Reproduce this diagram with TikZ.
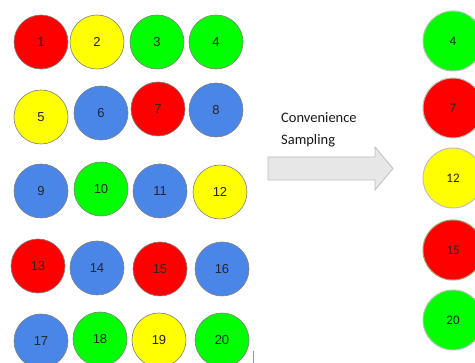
\documentclass[tikz,border=0pt]{standalone}
\usepackage{fontspec}
\setmainfont{Liberation Sans}
\newfontfamily\calib{Carlito}
\definecolor{cred}{HTML}{FF0000}
\definecolor{cyel}{HTML}{FFFF00}
\definecolor{cgrn}{HTML}{00FF00}
\definecolor{cblu}{HTML}{4A86E8}
\definecolor{arrfill}{HTML}{E7E7E7}
\definecolor{arrline}{HTML}{BFBFBF}
\tikzset{
  ball/.style={circle, draw=black!50, line width=0.6pt, minimum size=54pt, inner sep=0pt,
    font=\fontsize{13}{13}\selectfont, text=black!85},
  sball/.style={circle, draw=black!25, line width=1pt, minimum size=60pt, inner sep=0pt,
    font=\calib\fontsize{13}{13}\selectfont, text=black!85},
  lbl/.style={font=\calib\fontsize{14.5}{22}\selectfont, align=left, text=black!90, inner sep=0pt, anchor=north west}
}
\begin{document}
\begin{tikzpicture}[x=1pt,y=-1pt]
\useasboundingbox (0,0) rectangle (475,363);
\clip (0,0) rectangle (475,363);
\fill[white] (0,0) rectangle (475,363);
% left grid
\node[ball, fill=cred] (c1) at (41,42) {1};
\node[ball, fill=cyel] (c2) at (97,42) {2};
\node[ball, fill=cgrn] (c3) at (157,42) {3};
\node[ball, fill=cgrn] (c4) at (216,42) {4};
\node[ball, fill=cyel] (c5) at (41,117) {5};
\node[ball, fill=cblu] (c6) at (101,113) {6};
\node[ball, fill=cred] (c7) at (158,109) {7};
\node[ball, fill=cblu] (c8) at (216,110) {8};
\node[ball, fill=cblu] (c9) at (41,191) {9};
\node[ball, fill=cgrn] (c10) at (101,189) {10};
\node[ball, fill=cblu] (c11) at (160,191) {11};
\node[ball, fill=cyel] (c12) at (220,192) {12};
\node[ball, fill=cred] (c13) at (38,266) {13};
\node[ball, fill=cblu] (c14) at (97,268) {14};
\node[ball, fill=cred] (c15) at (160,269) {15};
\node[ball, fill=cblu] (c16) at (222,269) {16};
\node[ball, fill=cblu] (c17) at (41,341) {17};
\node[ball, fill=cgrn] (c18) at (100,339) {18};
\node[ball, fill=cyel] (c19) at (159,340) {19};
\node[ball, fill=cgrn] (c20) at (222,340) {20};
\coordinate (m1) at (253,351);
\coordinate (m2) at (253,363);
\draw[black!40, line width=1pt] (m1) -- (m2);
% arrow
\draw[draw=arrline, fill=arrfill, line width=0.8pt]
  (268,157) -- (375,157) -- (375,147) -- (393,168.5) -- (375,190) -- (375,180) -- (268,180) -- cycle;
\node[lbl] (t) at (281,112) {Convenience\\Sampling};
% sample
\node[sball, fill=cgrn] (s4) at (453,41) {4};
\node[sball, fill=cred] (s7) at (453,108) {7};
\node[sball, fill=cyel] (s12) at (453,178) {12};
\node[sball, fill=cred, draw=olive!60!black!60] (s15) at (453,250) {15};
\node[sball, fill=cgrn] (s20) at (453,320) {20};
\end{tikzpicture}
\end{document}
